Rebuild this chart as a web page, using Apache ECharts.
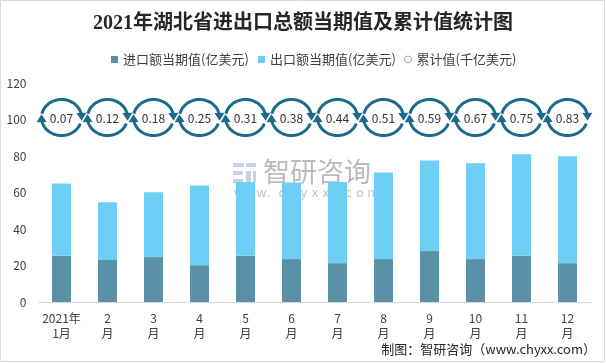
<!DOCTYPE html>
<html>
<head>
<meta charset="utf-8">
<script src="https://cdn.jsdelivr.net/npm/echarts@6/dist/echarts.min.js"></script>
<style>
html,body{margin:0;padding:0;background:#fff;}
#c{width:606px;height:363px;}
</style>
</head>
<body>
<div id="c"></div>
<script>
// ---- data ----
var categories = ['2021年\n1月','2\n月','3\n月','4\n月','5\n月','6\n月','7\n月','8\n月','9\n月','10\n月','11\n月','12\n月'];
var importValues = [25.3, 23.0, 24.6, 20.2, 25.3, 23.5, 21.3, 23.5, 27.9, 23.5, 25.3, 21.3];
var exportValues = [39.7, 31.6, 35.5, 43.7, 40.4, 42.0, 44.4, 47.5, 49.7, 52.5, 55.6, 58.5];
var cumulativeValues = [0.07, 0.12, 0.18, 0.25, 0.31, 0.38, 0.44, 0.51, 0.59, 0.67, 0.75, 0.83];
var yTicks = [0, 20, 40, 60, 80, 100, 120];
var ringLevel = 100; // height at which the cumulative badges are drawn

var seriesNames = ['进口额当期值(亿美元)', '出口额当期值(亿美元)', '累计值(千亿美元)'];
var colorImport = '#5b91a7';
var colorExport = '#6dcff5';
var ringColor = '#1c6b8a';
var textColor = '#404040';
var FONT = '"Noto Sans CJK SC", "Noto Sans", sans-serif';

function renderRing(params, api) {
  var c = api.coord([api.value(0), ringLevel]);
  var cx = c[0], cy = c[1] - 2;
  var a = 20, b = 18;
  function pt(deg) {
    var t = deg * Math.PI / 180;
    return [cx + a * Math.cos(t), cy - b * Math.sin(t)];
  }
  function arc(from, to) {
    var pts = [];
    var n = 40;
    for (var k = 0; k <= n; k++) pts.push(pt(from + (to - from) * k / n));
    return pts;
  }
  function arrow(deg) {
    var t = deg * Math.PI / 180;
    var p = pt(deg);
    var dx = a * Math.sin(t), dy = b * Math.cos(t);
    var L = Math.sqrt(dx * dx + dy * dy); dx /= L; dy /= L;
    var nx = -dy, ny = dx;
    var tip = [p[0] + dx * 4, p[1] + dy * 4];
    var bc = [p[0] - dx * 4, p[1] - dy * 4];
    return [tip, [bc[0] + nx * 5, bc[1] + ny * 5], [bc[0] - nx * 5, bc[1] - ny * 5]];
  }
  var lineStyle = {stroke: ringColor, lineWidth: 3, fill: null};
  var idx = api.value(0);
  return {
    type: 'group',
    children: [
      {type: 'polyline', shape: {points: arc(168, 8)}, style: lineStyle},
      {type: 'polygon', shape: {points: arrow(2)}, style: {fill: ringColor}},
      {type: 'polyline', shape: {points: arc(-20, -172)}, style: lineStyle},
      {type: 'polygon', shape: {points: arrow(-178)}, style: {fill: ringColor}},
      {type: 'text', style: {
        text: cumulativeValues[idx].toFixed(2), x: cx, y: cy + 1,
        align: 'center', verticalAlign: 'middle',
        fill: '#333', font: '12px ' + FONT
      }}
    ]
  };
}

var legendLefts = [106, 253, 399];
var legendIcons = ['rect', 'rect', 'circle'];
var legends = seriesNames.map(function (n, i) {
  var item = {name: n, icon: legendIcons[i]};
  if (i === 2) item.itemStyle = {color: '#fff', borderColor: '#9aa3ad', borderWidth: 1};
  return {
    top: 48, left: legendLefts[i],
    itemWidth: 7, itemHeight: 7, itemGap: 0,
    textStyle: {fontSize: 13, color: textColor, fontFamily: FONT},
    data: [item]
  };
});

var wmChars = 'www.chyxx.com'.split('');
var wmChildren = wmChars.map(function (ch, i) {
  return {type: 'text', x: i * 11.1, y: 0, style: {text: ch, fill: 'rgba(150,150,150,0.6)', font: '13px ' + FONT}};
});

var chart = echarts.init(document.getElementById('c'), null, {renderer: 'canvas'});
chart.setOption({
  animation: false,
  backgroundColor: '#fff',
  title: {
    text: '2021年湖北省进出口总额当期值及累计值统计图',
    left: 'center', top: 9,
    textStyle: {fontSize: 20, fontWeight: 'bold', color: '#262626', fontFamily: '"Liberation Serif", "Noto Sans CJK SC", serif'}
  },
  legend: legends,
  grid: {left: 38.5, right: 15.5, top: 83, bottom: 61},
  xAxis: {
    type: 'category',
    data: categories,
    axisTick: {show: false},
    axisLine: {lineStyle: {color: '#d9d9d9', width: 1}},
    axisLabel: {color: textColor, fontSize: 12, lineHeight: 15, margin: 9, fontFamily: FONT, interval: 0}
  },
  yAxis: {
    type: 'value',
    min: yTicks[0], max: yTicks[yTicks.length - 1], interval: yTicks[1] - yTicks[0],
    axisLine: {show: false},
    axisTick: {show: false},
    splitLine: {show: false},
    axisLabel: {color: textColor, fontSize: 12, margin: 12, fontFamily: FONT}
  },
  graphic: [
    {type: 'rect', shape: {x: 0.5, y: 0.5, width: 604, height: 361}, style: {fill: null, stroke: '#d9d9d9', lineWidth: 1}, silent: true, z: 100},
    {type: 'group', left: 233, top: 163, z: 1, silent: true, children: [
      {type: 'rect', shape: {x: 0, y: 0, width: 11, height: 4}, style: {fill: '#c9d1e3'}},
      {type: 'rect', shape: {x: 13, y: 0, width: 10, height: 4}, style: {fill: '#c9d1e3'}},
      {type: 'rect', shape: {x: 0, y: 8, width: 10, height: 4}, style: {fill: '#c9d1e3'}},
      {type: 'rect', shape: {x: 13, y: 8, width: 5, height: 11}, style: {fill: '#c9d1e3'}},
      {type: 'rect', shape: {x: 0, y: 16, width: 10, height: 4}, style: {fill: '#c9d1e3'}},
      {type: 'rect', shape: {x: 20, y: 8, width: 3, height: 11}, style: {fill: '#c9d1e3'}}
    ]},
    {type: 'text', left: 263, top: 158, z: 1, silent: true, style: {text: '智研咨询', fill: 'rgba(140,140,140,0.6)', font: '27px ' + FONT}},
    {type: 'group', left: 234, top: 186, z: 1, silent: true, children: wmChildren},
    {type: 'text', right: 10, top: 343, z: 5, silent: true, style: {text: '制图：智研咨询（www.chyxx.com）', fill: '#262626', font: '13px ' + FONT}}
  ],
  series: [
    {
      name: seriesNames[0], type: 'bar', stack: 'total', data: importValues,
      barWidth: 19, itemStyle: {color: colorImport}, z: 2
    },
    {
      name: seriesNames[1], type: 'bar', stack: 'total', data: exportValues,
      barWidth: 19, itemStyle: {color: colorExport}, z: 2
    },
    {
      name: seriesNames[2], type: 'custom',
      itemStyle: {color: '#fff', borderColor: '#9aa3ad', borderWidth: 1},
      renderItem: renderRing,
      data: cumulativeValues.map(function (v, i) { return [i, v]; }),
      encode: {x: 0},
      clip: false, z: 3
    }
  ]
});
</script>
</body>
</html>
